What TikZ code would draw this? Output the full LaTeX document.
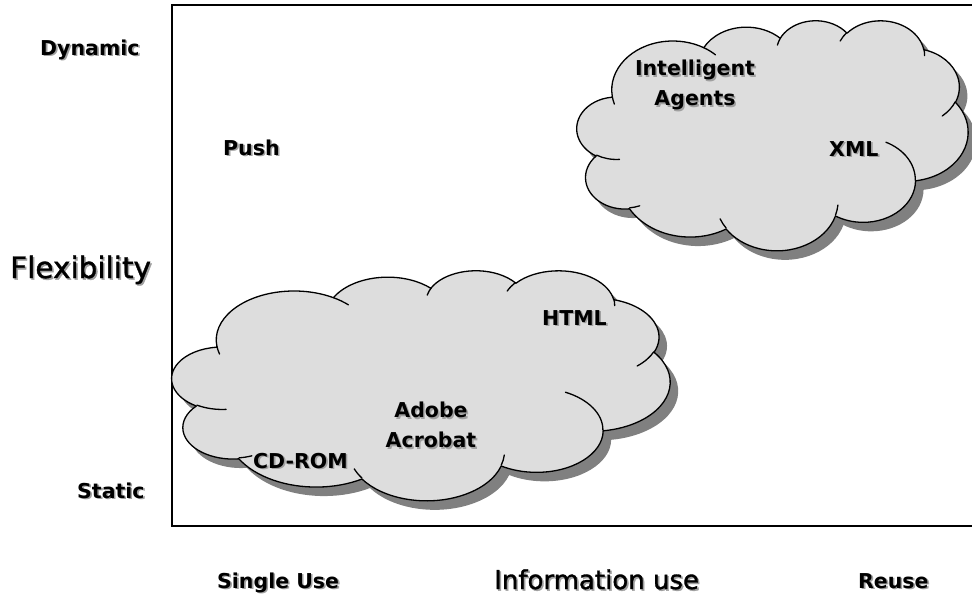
\documentclass[tikz,border=0pt]{standalone}
\usepackage{fontspec}
\setmainfont{DejaVu Sans}
\newfontfamily\heavyfont[FakeBold=1.2]{DejaVu Sans}
\definecolor{cfillc}{HTML}{DDDDDD}
\definecolor{cshadc}{HTML}{808080}
\definecolor{tshadow}{HTML}{A0A0A0}
\newcommand\shd[1]{\leavevmode\rlap{\kern1.6pt\raisebox{-1.6pt}{\textcolor{tshadow}{#1}}}#1}
\tikzset{
  oa/.style n args={4}{insert path={
    arc[x radius=#1, y radius=#2,
        start angle={atan2(sin(#3)*#1, cos(#3)*#2)},
        delta angle={Mod(atan2(sin(#3+#4)*#1, cos(#3+#4)*#2) - atan2(sin(#3)*#1, cos(#3)*#2), 360)}]}},
  cloudmain/.style={insert path={(39.00,143.70)
    [oa={67.53}{91.90}{-190.4875}{123.7805}]
    [oa={53.33}{72.67}{-144.1024}{89.9452}]
    [oa={43.65}{59.45}{-145.8079}{99.7230}]
    [oa={48.57}{65.95}{-130.9861}{117.2417}]
    [oa={53.33}{72.73}{-78.7089}{109.0269}]
    [oa={67.75}{92.20}{-46.2673}{130.2690}]
    [oa={57.85}{78.67}{0.6250}{114.0333}]
    [oa={67.52}{92.15}{22.4516}{115.1726}]
    [oa={77.20}{105.43}{66.2426}{75.7110}]
    [oa={43.60}{59.18}{-274.9421}{146.7356}]
    [oa={43.45}{59.45}{-246.8285}{152.5189}] -- cycle}},
  cloudinner/.style={insert path={
    (46.93,261.77) [oa={43.45}{59.45}{86.7420}{26.4295}]
    (69.28,348.99) [oa={43.60}{59.18}{73.6105}{11.4475}]
    (164.78,390.90) [oa={67.52}{92.15}{137.6242}{14.0811}]
    (288.27,347.51) [oa={67.52}{92.15}{6.4533}{15.9984}]
    (341.29,229.54) [oa={57.85}{78.67}{-70.2924}{70.9174}]
    (417.98,153.54) [oa={53.33}{72.73}{30.3180}{27.7515}]
    (383.24,54.26) [oa={48.57}{65.95}{-13.7443}{14.8589}]
    (290.78,39.52) [oa={48.57}{65.95}{-149.1815}{18.1954}]
    (221.41,47.20) [oa={43.65}{59.45}{-163.4943}{17.6864}]
    (140.00,51.92) [oa={67.53}{91.90}{-66.7070}{12.3194}]
    (41.27,157.89) [oa={67.53}{91.90}{157.6544}{11.8582}]}},
  lbl/.style={font=\fontsize{20.5}{30}\selectfont\bfseries, inner sep=0pt, align=center},
  biglbl/.style={inner sep=0pt},
  cline/.style={line width=1.3pt, line join=round, line cap=round}
}
\newcommand\mycloud[4]{%
  \begin{scope}[shift={(#1+8,#2+9)}, x={({#3/432*1pt},0pt)}, y={(0pt,{-#4/432*1pt})}]
    \path[fill=cshadc] [cloudmain];
  \end{scope}
  \begin{scope}[shift={(#1,#2)}, x={({#3/432*1pt},0pt)}, y={(0pt,{-#4/432*1pt})}]
    \path[fill=cfillc, draw=black, cline] [cloudmain];
    \path[draw=black, cline] [cloudinner];
  \end{scope}}
\begin{document}
\begin{tikzpicture}[x=1pt, y=-1pt]
\useasboundingbox (0,0) rectangle (972,600);
% frame
\draw[line width=2pt] (980,5) -- (172,5) -- (172,526) -- (980,526);
% clouds
\mycloud{577}{20}{391}{230}
\mycloud{172}{270}{498}{230}
% axis labels
\node[lbl, anchor=base west] (dyn) at (40,55) {\shd{Dynamic}};
\node[lbl, anchor=base west] (push) at (223,155) {\shd{Push}};
\node[biglbl, anchor=base west, font=\heavyfont\fontsize{29.5}{34}\selectfont] (flex) at (10,278) {\shd{Flexibility}};
\node[lbl, anchor=base west] (stat) at (77,498) {\shd{Static}};
\node[lbl, anchor=base west] (single) at (217,588) {\shd{Single Use}};
\node[biglbl, anchor=base west, font=\heavyfont\fontsize{26}{30}\selectfont] (info) at (494,589) {\shd{Information use}};
\node[lbl, anchor=base west] (reuse) at (858,588) {\shd{Reuse}};
% cloud labels
\node[lbl] (agents) at (695,86) {\shd{Intelligent}\\\shd{Agents}};
\node[lbl, anchor=base west] (xml) at (829,156) {\shd{XML}};
\node[lbl, anchor=base west] (html) at (542,325) {\shd{HTML}};
\node[lbl] (acro) at (431,426) {\shd{Adobe}\\\shd{Acrobat}};
\node[lbl, anchor=base west] (cdrom) at (253,468) {\shd{CD-ROM}};
\end{tikzpicture}
\end{document}
